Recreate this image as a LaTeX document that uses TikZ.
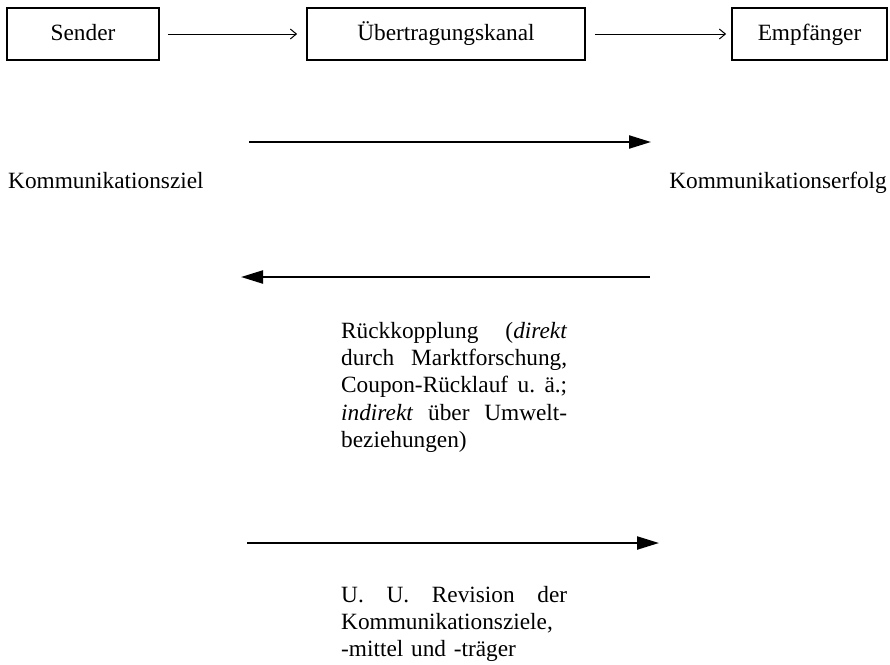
\documentclass[tikz,border=0pt]{standalone}
\usepackage{fontspec}
\setmainfont{Liberation Serif}
\usetikzlibrary{arrows.meta}
\tikzset{
  box/.style={draw, line width=1.8pt, minimum height=52pt, inner sep=0pt, text height=16pt, text depth=3pt, font=\fontsize{23.3pt}{23pt}\selectfont},
  thinarrow/.style={line width=1pt, -{Straight Barb[length=6pt,width=10pt]}},
  bigarrow/.style={line width=2.2pt, -{Triangle[length=22pt,width=13pt]}},
  lbl/.style={inner sep=0pt, font=\fontsize{23.3pt}{23pt}\selectfont},
  para/.style={inner sep=0pt, anchor=north west, text width=226pt, align=left, font=\fontsize{23.3pt}{27.3pt}\selectfont}
}
\newcommand{\jline}[1]{\leavevmode\hbox to 226pt{#1}}
\begin{document}
\begin{tikzpicture}[x=1pt,y=-1pt]
\useasboundingbox (0,0) rectangle (890,664);
\node[box, minimum width=152pt] (sender) at (83,34) {Sender};
\node[box, minimum width=278pt] (kanal) at (446,34) {Übertragungskanal};
\node[box, minimum width=155pt] (empf) at (809.5,34) {Empfänger};
\draw[thinarrow, shorten <=8pt, shorten >=9pt] (sender.east) -- (kanal.west);
\draw[thinarrow, shorten <=9pt, shorten >=5pt] (kanal.east) -- (empf.west);

\node[lbl, anchor=base west] (ziel) at (8,188) {Kommunikationsziel};
\node[lbl, anchor=base east] (erfolg) at (887,188) {Kommunikationserfolg};

\coordinate (a1s) at (249,142);
\coordinate (a1e) at (651,142);
\coordinate (a2s) at (650,277);
\coordinate (a2e) at (241,277);
\coordinate (a3s) at (247,543);
\coordinate (a3e) at (659,543);
\draw[bigarrow] (a1s) -- (a1e);
\draw[bigarrow] (a2s) -- (a2e);
\draw[bigarrow] (a3s) -- (a3e);

\node[para] (rueck) at (341,322) {%
\jline{Rückkopplung\hfill(\textit{direkt}}\\
\jline{durch\hfill Marktforschung,}\\
\jline{Coupon-Rücklauf\hfill u.\hfill ä.;}\\
\jline{\textit{indirekt}\hfill über\hfill Umwelt-}\\
beziehungen)};

\node[para] (rev) at (341,586) {%
\jline{U.\hfill U.\hfill Revision\hfill der}\\
\jline{Kommunikationsziele,\hfill}\\
-mittel und -träger};
\end{tikzpicture}
\end{document}
